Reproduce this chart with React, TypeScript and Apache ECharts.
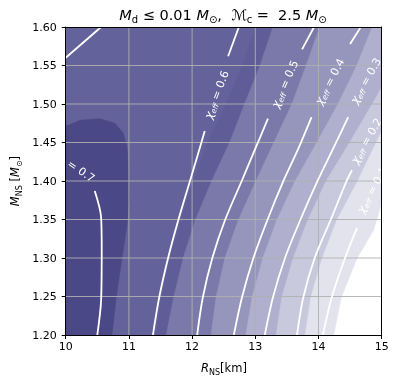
import React, { useEffect, useRef } from 'react';
import * as echarts from 'echarts';

// axis ticks
const xTicks = [10, 11, 12, 13, 14, 15];
const yTicks = [1.2, 1.25, 1.3, 1.35, 1.4, 1.45, 1.5, 1.55, 1.6];
const xGridVals = [11, 12, 13, 14];
const yGridVals = [1.25, 1.3, 1.35, 1.4, 1.45, 1.5, 1.55];

// contour lines of chi_eff  [R_NS (km), M_NS (Msun)]
const line07 = [[10.50, 1.20], [10.56, 1.245], [10.57, 1.31], [10.56, 1.353], [10.46, 1.387]];
const line06Lower = [[11.38, 1.20], [11.48, 1.249], [11.62, 1.30], [11.76, 1.343], [11.97, 1.401], [12.09, 1.434], [12.20, 1.465]];
const line06Upper = [[12.57, 1.562], [12.74, 1.60]];
const line05Lower = [[12.08, 1.20], [12.17, 1.249], [12.32, 1.30], [12.52, 1.349], [12.79, 1.401], [12.99, 1.44], [13.20, 1.481]];
const line05Upper = [[13.74, 1.571], [13.93, 1.60]];
const line04Lower = [[12.66, 1.20], [12.79, 1.249], [12.97, 1.30], [13.19, 1.349], [13.45, 1.401], [13.67, 1.44], [13.89, 1.483]];
const line04Upper = [[14.50, 1.578], [14.67, 1.60]];
const line03 = [[13.15, 1.20], [13.28, 1.249], [13.47, 1.30], [13.71, 1.349], [13.99, 1.401], [14.22, 1.44], [14.47, 1.483]];
const line02 = [[13.66, 1.20], [13.76, 1.249], [13.94, 1.30], [14.19, 1.349], [14.45, 1.401], [14.53, 1.414]];
const line01 = [[14.07, 1.20], [14.21, 1.249], [14.42, 1.30], [14.61, 1.339]];
const lineTopLeft = [[10.0, 1.56], [10.56, 1.60]];

// inline contour labels
const labelLevels = ['0.7', '0.6', '0.5', '0.4', '0.3', '0.2', '0.1'];
const labelR = [10.11, 12.39, 13.47, 14.18, 14.75, 14.76, 14.85];
const labelM = [1.420, 1.512, 1.526, 1.529, 1.530, 1.452, 1.388];
const labelAngle = [-34, 69, 66, 62, 60, 60, 61];

// filled band boundaries (top -> bottom)
const edgeB2 = [[13.01, 1.60], [12.79, 1.549], [12.54, 1.50], [12.25, 1.451], [12.02, 1.40], [11.83, 1.349], [11.65, 1.30], [11.52, 1.249], [11.43, 1.20]];
const edgeC = [[13.28, 1.60], [13.07, 1.549], [12.83, 1.50], [12.60, 1.451], [12.31, 1.40], [12.05, 1.349], [11.86, 1.30], [11.71, 1.249], [11.59, 1.20]];
const edgeD = [[14.02, 1.60], [13.80, 1.549], [13.58, 1.50], [13.30, 1.451], [13.01, 1.40], [12.73, 1.349], [12.52, 1.30], [12.38, 1.249], [12.30, 1.20]];
const edgeE = [[14.85, 1.60], [14.60, 1.549], [14.31, 1.50], [13.98, 1.451], [13.63, 1.40], [13.34, 1.349], [13.12, 1.30], [12.95, 1.249], [12.85, 1.20]];
const edgeF = [[15.0, 1.521], [14.85, 1.50], [14.50, 1.451], [14.12, 1.40], [13.83, 1.349], [13.60, 1.30], [13.42, 1.249], [13.33, 1.20]];
const edgeG = [[15.0, 1.4645], [14.62, 1.40], [14.29, 1.349], [14.06, 1.30], [13.88, 1.249], [13.79, 1.20]];
const edgeW = [[15.0, 1.369], [14.88, 1.336], [14.62, 1.30], [14.37, 1.249], [14.25, 1.20]];
const edgeA = [[10.0, 1.471], [10.23, 1.479], [10.54, 1.481], [10.78, 1.475], [10.91, 1.462], [10.97, 1.444], [10.99, 1.421], [11.0, 1.375], [10.97, 1.343], [10.89, 1.30], [10.80, 1.249], [10.73, 1.20]];

const bandColors = ['#64629b', '#5f5d97', '#7a79a9', '#9695bc', '#b0afcd', '#c9c9dd', '#e3e3ed', '#ffffff', '#4b4887'];

const FONT = 'DejaVu Sans';

export default function App() {
  const ref = useRef<HTMLDivElement>(null);
  useEffect(() => {
    if (!ref.current) return;
    const chart = echarts.init(ref.current, undefined, { renderer: 'svg' });

    const xMin = xTicks[0], xMax = xTicks[xTicks.length - 1];
    const yMin = yTicks[0], yMax = yTicks[yTicks.length - 1];
    const fullRight = [[xMax, yMin], [xMax, yMax]];
    const bands = [
      [[xMin, yMin], [xMax, yMin], [xMax, yMax], [xMin, yMax]],
      edgeB2.concat(fullRight),
      edgeC.concat(fullRight),
      edgeD.concat(fullRight),
      edgeE.concat(fullRight),
      edgeF.concat([[xMax, yMin]]),
      edgeG.concat([[xMax, yMin]]),
      edgeW.concat([[xMax, yMin]]),
      edgeA.concat([[xMin, yMin]]),
    ];

    const lines = [line07, line06Lower, line06Upper, line05Lower, line05Upper, line04Lower, line04Upper, line03, line02, line01, lineTopLeft];

    const axisLineStyle = { color: '#000', width: 1 };
    const titleRich = {
      mi: { fontFamily: FONT, fontStyle: 'italic', fontSize: 14.5, fill: '#000', lineHeight: 19, verticalAlign: 'middle' },
      n: { fontFamily: FONT, fontSize: 14.5, fill: '#000', lineHeight: 19, verticalAlign: 'middle' },
      sub: { fontFamily: FONT, fontSize: 10, fill: '#000', lineHeight: 10, verticalAlign: 'bottom' },
    };
    const axRich = {
      mi: { fontFamily: FONT, fontStyle: 'italic', fontSize: 11.5, fill: '#000', lineHeight: 16, verticalAlign: 'middle' },
      n: { fontFamily: FONT, fontSize: 11.5, fill: '#000', lineHeight: 16, verticalAlign: 'middle' },
      sub: { fontFamily: FONT, fontSize: 8, fill: '#000', lineHeight: 9, verticalAlign: 'bottom' },
    };
    const lblRich = {
      chi: { fontFamily: FONT, fontStyle: 'italic', fontSize: 11.5, fill: '#ffffff', lineHeight: 14, verticalAlign: 'middle' },
      sub: { fontFamily: FONT, fontStyle: 'italic', fontSize: 7.5, fill: '#ffffff', lineHeight: 8, verticalAlign: 'bottom' },
      n: { fontFamily: FONT, fontSize: 11, fill: '#ffffff', lineHeight: 14, verticalAlign: 'middle' },
    };

    const option: any = {
      animation: false,
      grid: { left: 65.7, top: 27, width: 316, height: 308, containLabel: false },
      xAxis: [
        {
          type: 'value', min: xMin, max: xMax, interval: 1, position: 'bottom', z: 5,
          axisLine: { show: true, onZero: false, lineStyle: axisLineStyle },
          axisTick: { show: true, inside: false, length: 4, lineStyle: axisLineStyle },
          axisLabel: { color: '#000', fontSize: 11, fontFamily: FONT, margin: 6 },
          splitLine: { show: false },
        },
        {
          type: 'value', min: xMin, max: xMax, position: 'top', z: 5,
          axisLine: { show: true, onZero: false, lineStyle: axisLineStyle },
          axisTick: { show: false }, axisLabel: { show: false }, splitLine: { show: false },
        },
      ],
      yAxis: [
        {
          type: 'value', min: yMin, max: yMax, interval: 0.05, position: 'left', z: 5,
          axisLine: { show: true, onZero: false, lineStyle: axisLineStyle },
          axisTick: { show: true, inside: false, length: 4, lineStyle: axisLineStyle },
          axisLabel: { color: '#000', fontSize: 11, fontFamily: FONT, margin: 9, formatter: (v: number) => v.toFixed(2) },
          splitLine: { show: false },
        },
        {
          type: 'value', min: yMin, max: yMax, position: 'right', z: 5,
          axisLine: { show: true, onZero: false, lineStyle: axisLineStyle },
          axisTick: { show: false }, axisLabel: { show: false }, splitLine: { show: false },
        },
      ],
      graphic: [
        {
          type: 'text', x: 223, y: 15, z: 10,
          style: {
            text: '{mi|M}{sub|d}{n| ≤ 0.01 }{mi|M}{sub|⊙}{n|,  }{mi|ℳ}{sub|c}{n| =  2.5 }{mi|M}{sub|⊙}',
            rich: titleRich, align: 'center', verticalAlign: 'middle', textAlign: 'center', textVerticalAlign: 'middle',
          },
        },
        {
          type: 'text', x: 224, y: 368, z: 10,
          style: {
            text: '{mi|R}{sub|NS}{n|[km]}',
            rich: axRich, align: 'center', verticalAlign: 'middle', textAlign: 'center', textVerticalAlign: 'middle',
          },
        },
        {
          type: 'text', x: 15, y: 181, z: 10, rotation: Math.PI / 2,
          style: {
            text: '{mi|M}{sub|NS}{n| [}{mi|M}{sub|⊙}{n|]}',
            rich: axRich, align: 'center', verticalAlign: 'middle', textAlign: 'center', textVerticalAlign: 'middle',
          },
        },
      ],
      series: [
        {
          type: 'custom', z: 0, silent: true, clip: true,
          data: bands.map((_, i) => [xMin, yMin, i]),
          encode: { x: 0, y: 1 },
          renderItem: (params: any, api: any) => {
            const i = api.value(2);
            const pts = bands[i].map((p) => api.coord(p));
            return {
              type: 'polygon',
              shape: { points: pts },
              style: { fill: bandColors[i], stroke: bandColors[i], lineWidth: 0.6 },
            };
          },
        },
        {
          type: 'custom', z: 1, silent: true,
          data: xGridVals.map((v) => [v, yMin, 0]).concat(yGridVals.map((v) => [xMin, v, 1])),
          encode: { x: 0, y: 1 },
          renderItem: (params: any, api: any) => {
            const vert = api.value(2) === 0;
            const a = vert ? api.coord([api.value(0), yMin]) : api.coord([xMin, api.value(1)]);
            const b = vert ? api.coord([api.value(0), yMax]) : api.coord([xMax, api.value(1)]);
            return {
              type: 'line',
              shape: { x1: a[0], y1: a[1], x2: b[0], y2: b[1] },
              style: { stroke: '#b0b0b0', lineWidth: 0.9 },
            };
          },
        },
        ...lines.map((pts) => ({
          type: 'line', z: 3, silent: true, clip: true,
          data: pts, symbol: 'none', smooth: 0.3,
          lineStyle: { color: '#ffffff', width: 1.8 },
        })),
        {
          type: 'custom', z: 4, silent: true, clip: true,
          data: labelLevels.map((l, i) => [labelR[i], labelM[i], i]),
          encode: { x: 0, y: 1 },
          renderItem: (params: any, api: any) => {
            const i = api.value(2);
            const p = api.coord([api.value(0), api.value(1)]);
            return {
              type: 'text',
              x: p[0], y: p[1],
              rotation: (labelAngle[i] * Math.PI) / 180,
              style: {
                text: '{chi|χ}{sub|eff}{n| = ' + labelLevels[i] + '}',
                rich: lblRich,
                align: 'center', verticalAlign: 'middle',
                textAlign: 'center', textVerticalAlign: 'middle',
              },
            };
          },
        },
      ],
    };
    chart.setOption(option);
    return () => chart.dispose();
  }, []);
  return <div ref={ref} style={{ position: 'fixed', left: 0, top: 0, width: 398, height: 384 }} />;
}
